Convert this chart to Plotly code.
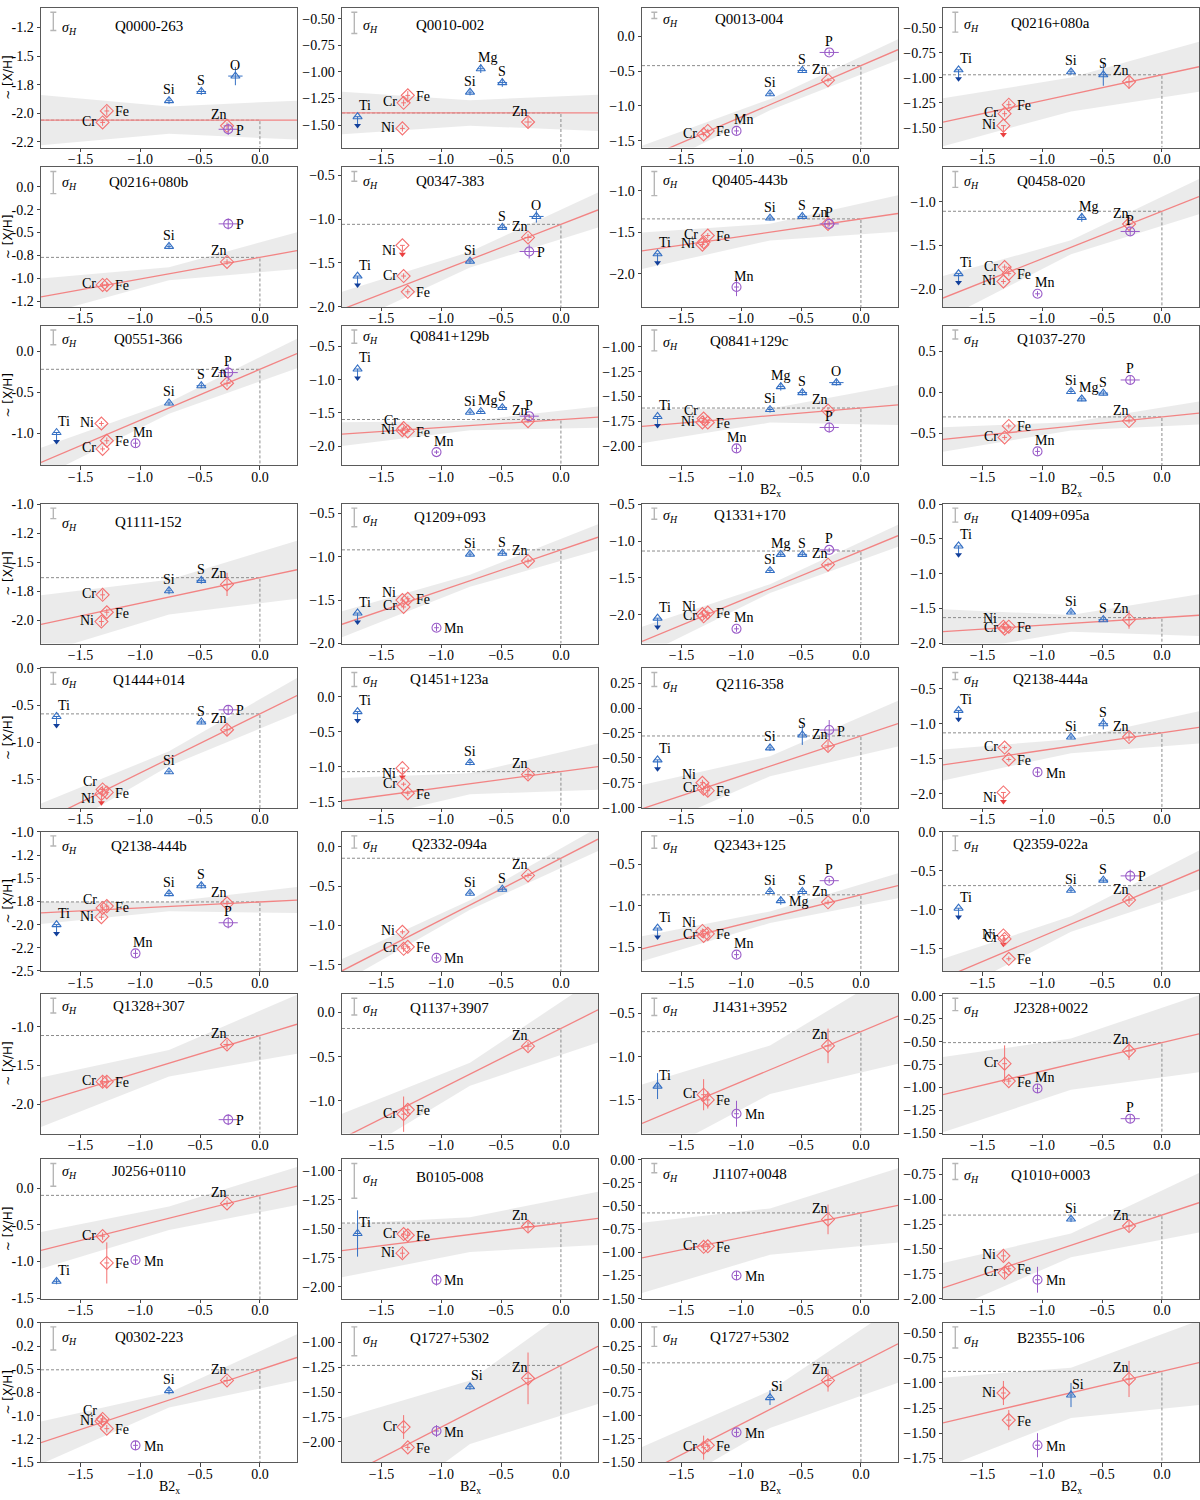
import plotly.graph_objects as go

# ---------------- data ----------------
X_RANGE = [-1.83, 0.31]
X_TICKS = [-1.5, -1.0, -0.5, 0.0]
BAND_X = [-1.83, -0.76, 0.31]

ELEM_B2X = {"Ti": -1.70, "Cr": -1.315, "Ni": -1.325, "Fe": -1.28, "Mn": -1.04,
            "Si": -0.76, "Mg": -0.67, "S": -0.49, "Zn": -0.275, "P": -0.265, "O": -0.205}
ELEM_XERR = {"Ti": 0.03, "Cr": 0.02, "Ni": 0.02, "Fe": 0.02, "Mn": 0.02, "Si": 0.02,
             "Mg": 0.03, "S": 0.04, "Zn": 0.03, "P": 0.08, "O": 0.06}
ALPHA_ELEMS = ["Ti", "Si", "Mg", "S", "O"]
FEPEAK_ELEMS = ["Cr", "Ni", "Fe", "Zn"]
OTHER_ELEMS = ["Mn", "P"]
DEFAULT_YERR = 0.03

NAMES = ["Q0000-263", "Q0010-002", "Q0013-004", "Q0216+080a",
         "Q0216+080b", "Q0347-383", "Q0405-443b", "Q0458-020",
         "Q0551-366", "Q0841+129b", "Q0841+129c", "Q1037-270",
         "Q1111-152", "Q1209+093", "Q1331+170", "Q1409+095a",
         "Q1444+014", "Q1451+123a", "Q2116-358", "Q2138-444a",
         "Q2138-444b", "Q2332-094a", "Q2343+125", "Q2359-022a",
         "Q1328+307", "Q1137+3907", "J1431+3952", "J2328+0022",
         "J0256+0110", "B0105-008", "J1107+0048", "Q1010+0003",
         "Q0302-223", "Q1727+5302", "Q1727+5302", "B2355-106"]

Y_RANGE = [[-2.30, -1.08], [-1.71, -0.40], [-1.60, 0.41], [-1.70, -0.30],
           [-1.31, 0.21], [-2.003, -0.41], [-2.40, -0.72], [-2.20, -0.61],
           [-1.39, 0.31], [-2.29, -0.19], [-2.19, -0.79], [-0.89, 0.81],
           [-2.20, -0.997], [-2.003, -0.39], [-2.39, -0.497], [-2.003, 0.003],
           [-1.89, 0.003], [-1.59, 0.41], [-1.003, 0.40], [-2.20, -0.21],
           [-2.503, -0.997], [-1.58, 0.19], [-1.79, -0.11], [-1.79, 0.003],
           [-2.38, -0.58], [-1.37, 0.21], [-1.89, -0.275], [-1.503, 0.02],
           [-1.51, 0.39], [-2.105, -0.90], [-1.503, 0.003], [-2.003, -0.60],
           [-1.503, 0.003], [-2.205, -0.80], [-1.503, 0.003], [-1.79, -0.40]]

Y_TICKS = [[-1.25, -1.5, -1.75, -2.0, -2.25], [-0.5, -0.75, -1.0, -1.25, -1.5], [0.0, -0.5, -1.0, -1.5], [-0.5, -0.75, -1.0, -1.25, -1.5],
           [0.0, -0.25, -0.5, -0.75, -1.0, -1.25], [-0.5, -1.0, -1.5, -2.0], [-1.0, -1.5, -2.0], [-1.0, -1.5, -2.0],
           [0.0, -0.5, -1.0], [-0.5, -1.0, -1.5, -2.0], [-1.0, -1.25, -1.5, -1.75, -2.0], [0.5, 0.0, -0.5],
           [-1.0, -1.25, -1.5, -1.75, -2.0], [-0.5, -1.0, -1.5, -2.0], [-0.5, -1.0, -1.5, -2.0], [0.0, -0.5, -1.0, -1.5, -2.0],
           [0.0, -0.5, -1.0, -1.5], [0.0, -0.5, -1.0, -1.5], [0.25, 0.0, -0.25, -0.5, -0.75, -1.0], [-0.5, -1.0, -1.5, -2.0],
           [-1.0, -1.25, -1.5, -1.75, -2.0, -2.25, -2.5], [0.0, -0.5, -1.0, -1.5], [-0.5, -1.0, -1.5], [0.0, -0.5, -1.0, -1.5],
           [-1.0, -1.5, -2.0], [0.0, -0.5, -1.0], [-0.5, -1.0, -1.5], [0.0, -0.25, -0.5, -0.75, -1.0, -1.25, -1.5],
           [0.0, -0.5, -1.0, -1.5], [-1.0, -1.25, -1.5, -1.75, -2.0], [0.0, -0.25, -0.5, -0.75, -1.0, -1.25, -1.5], [-0.75, -1.0, -1.25, -1.5, -1.75, -2.0],
           [0.0, -0.25, -0.5, -0.75, -1.0, -1.25, -1.5], [-1.0, -1.25, -1.5, -1.75, -2.0], [0.0, -0.25, -0.5, -0.75, -1.0, -1.25, -1.5], [-0.5, -0.75, -1.0, -1.25, -1.5, -1.75]]

FIT_ZERO = [-2.06, -1.385, -0.42, -0.97,
            -0.77, -1.06, -1.34, -1.11,
            -0.22, -1.60, -1.615, -0.30,
            -1.632, -0.92, -1.135, -1.63,
            -0.615, -1.07, -0.28, -1.13,
            -1.755, -0.147, -0.87, -0.69,
            -1.115, -0.18, -0.71, -0.51,
            -0.10, -1.45, -0.575, -1.16,
            -0.505, -1.23, -0.43, -0.885]

FIT_SLOPE = [0.0, 0.0, 0.74, 0.26,
             0.235, 0.53, 0.21, 0.54,
             0.62, 0.12, 0.10, 0.15,
             0.22, 0.47, 0.67, 0.11,
             0.80, 0.23, 0.40, 0.25,
             0.065, 0.78, 0.355, 0.65,
             0.47, 0.68, 0.58, 0.31,
             0.41, 0.13, 0.265, 0.40,
             0.43, 0.62, 0.66, 0.28]

BAND_HW = [[0.22, 0.12, 0.17], [0.20, 0.12, 0.17], [0.20, 0.08, 0.15], [0.24, 0.17, 0.25],
           [0.20, 0.07, 0.20], [0.20, 0.09, 0.20], [0.22, 0.10, 0.22], [0.25, 0.08, 0.20],
           [0.18, 0.07, 0.18], [0.18, 0.07, 0.16], [0.17, 0.07, 0.20], [0.15, 0.05, 0.14],
           [0.25, 0.15, 0.25], [0.15, 0.07, 0.15], [0.20, 0.06, 0.15], [0.32, 0.12, 0.30],
           [0.25, 0.10, 0.24], [0.33, 0.15, 0.33], [0.24, 0.10, 0.23], [0.22, 0.10, 0.23],
           [0.12, 0.05, 0.14], [0.15, 0.06, 0.15], [0.15, 0.07, 0.15], [0.25, 0.10, 0.25],
           [0.32, 0.17, 0.38], [0.28, 0.13, 0.37], [0.45, 0.28, 0.55], [0.41, 0.28, 0.42],
           [0.25, 0.16, 0.26], [0.23, 0.15, 0.23], [0.38, 0.25, 0.40], [0.25, 0.12, 0.30],
           [0.23, 0.08, 0.25], [0.60, 0.32, 0.58], [0.30, 0.20, 0.42], [0.45, 0.25, 0.42]]

SIGMA_H = [0.16, 0.20, 0.09, 0.20,
           0.24, 0.11, 0.29, 0.18,
           0.18, 0.20, 0.21, 0.11,
           0.09, 0.215, 0.15, 0.20,
           0.16, 0.20, 0.14, 0.10,
           0.11, 0.155, 0.15, 0.19,
           0.19, 0.19, 0.20, 0.135,
           0.31, 0.30, 0.10, 0.16,
           0.25, 0.29, 0.21, 0.21]

ABUND = [
    {"Cr": -2.08, "Fe": -1.98, "Si": -1.89, "S": -1.81, "O": -1.675, "Zn": -2.11, "P": -2.14},
    {"Ti": -1.42, "Ni": -1.53, "Cr": -1.29, "Fe": -1.22, "Si": -1.19, "Mg": -0.97, "S": -1.10, "Zn": -1.47},
    {"Cr": -1.41, "Fe": -1.36, "Mn": -1.36, "Si": -0.825, "S": -0.49, "Zn": -0.63, "P": -0.23},
    {"Ti": -0.92, "Si": -0.94, "S": -0.97, "Zn": -1.04, "Fe": -1.27, "Cr": -1.36, "Ni": -1.48},
    {"Si": -0.65, "P": -0.405, "Zn": -0.82, "Cr": -1.07, "Fe": -1.07},
    {"O": -0.97, "S": -1.095, "Zn": -1.21, "P": -1.37, "Ni": -1.30, "Si": -1.48, "Ti": -1.65, "Cr": -1.65, "Fe": -1.83},
    {"Si": -1.33, "S": -1.31, "Zn": -1.40, "P": -1.40, "Cr": -1.62, "Fe": -1.54, "Ni": -1.65, "Ti": -1.76, "Mn": -2.16},
    {"Mg": -1.18, "Zn": -1.255, "P": -1.34, "Ti": -1.82, "Cr": -1.745, "Fe": -1.82, "Ni": -1.91, "Mn": -2.05},
    {"Ti": -0.99, "Ni": -0.88, "Cr": -1.19, "Fe": -1.09, "Mn": -1.12, "Si": -0.63, "S": -0.42, "Zn": -0.39, "P": -0.26},
    {"Ti": -0.84, "Si": -1.49, "Mg": -1.48, "S": -1.42, "Zn": -1.625, "P": -1.55, "Cr": -1.73, "Ni": -1.76, "Fe": -1.78, "Mn": -2.09},
    {"Ti": -1.70, "Cr": -1.72, "Ni": -1.76, "Fe": -1.76, "Mn": -2.02, "Si": -1.63, "Mg": -1.40, "S": -1.46, "O": -1.36, "Zn": -1.64, "P": -1.81},
    {"Si": 0.01, "Mg": -0.08, "S": -0.01, "P": 0.15, "Zn": -0.35, "Fe": -0.41, "Cr": -0.55, "Mn": -0.72},
    {"Cr": -1.78, "Ni": -2.01, "Fe": -1.93, "Si": -1.745, "S": -1.655, "Zn": -1.69},
    {"Ti": -1.65, "Ni": -1.50, "Fe": -1.485, "Cr": -1.58, "Mn": -1.82, "Si": -0.97, "S": -0.96, "Zn": -1.05},
    {"Ti": -2.045, "Ni": -1.99, "Cr": -2.02, "Fe": -1.97, "Mn": -2.19, "Si": -1.40, "Mg": -1.18, "S": -1.18, "Zn": -1.32, "P": -1.12},
    {"Ti": -0.60, "Ni": -1.76, "Cr": -1.79, "Fe": -1.76, "Si": -1.55, "S": -1.66, "Zn": -1.66},
    {"Ti": -0.65, "S": -0.725, "P": -0.56, "Zn": -0.83, "Si": -1.40, "Cr": -1.64, "Fe": -1.68, "Ni": -1.70},
    {"Ti": -0.21, "Si": -0.94, "Ni": -1.02, "Cr": -1.25, "Fe": -1.38, "Zn": -1.11},
    {"Ti": -0.52, "Ni": -0.75, "Cr": -0.81, "Fe": -0.83, "Si": -0.40, "S": -0.27, "Zn": -0.38, "P": -0.22},
    {"Ti": -0.81, "Si": -1.19, "S": -1.00, "Zn": -1.19, "Cr": -1.34, "Fe": -1.51, "Mn": -1.69, "Ni": -1.98},
    {"Ti": -2.00, "Cr": -1.82, "Fe": -1.80, "Ni": -1.92, "Mn": -2.31, "Si": -1.665, "S": -1.58, "Zn": -1.77, "P": -1.98},
    {"Ni": -1.08, "Cr": -1.295, "Fe": -1.27, "Mn": -1.41, "Si": -0.59, "S": -0.54, "Zn": -0.365},
    {"Ti": -1.27, "Ni": -1.305, "Cr": -1.365, "Fe": -1.34, "Mn": -1.59, "Si": -0.83, "Mg": -0.94, "S": -0.83, "Zn": -0.96, "P": -0.70},
    {"Ti": -0.98, "Ni": -1.33, "Cr": -1.375, "Fe": -1.63, "Si": -0.75, "S": -0.62, "P": -0.565, "Zn": -0.875},
    {"Cr": -1.71, "Fe": -1.71, "Zn": -1.23, "P": -2.20},
    {"Cr": -1.15, "Fe": -1.10, "Zn": -0.38},
    {"Ti": -1.34, "Cr": -1.44, "Fe": -1.50, "Mn": -1.66, "Zn": -0.875},
    {"Cr": -0.74, "Fe": -0.93, "Mn": -1.01, "Zn": -0.60, "P": -1.34},
    {"Zn": -0.21, "Cr": -0.655, "Fe": -1.02, "Mn": -0.98, "Ti": -1.27},
    {"Ti": -1.54, "Cr": -1.545, "Fe": -1.555, "Ni": -1.71, "Mn": -1.94, "Zn": -1.48},
    {"Zn": -0.645, "Cr": -0.94, "Fe": -0.935, "Mn": -1.25},
    {"Si": -1.20, "Zn": -1.27, "Ni": -1.57, "Cr": -1.74, "Fe": -1.70, "Mn": -1.81},
    {"Cr": -1.035, "Ni": -1.06, "Fe": -1.14, "Mn": -1.32, "Si": -0.73, "Zn": -0.62},
    {"Cr": -1.85, "Fe": -2.055, "Mn": -1.89, "Si": -1.445, "Zn": -1.36},
    {"Cr": -1.345, "Fe": -1.32, "Mn": -1.18, "Si": -0.805, "Zn": -0.62},
    {"Ni": -1.10, "Fe": -1.37, "Mn": -1.62, "Si": -1.12, "Zn": -0.96},
]

ABUND_ERR = [
    {"Fe": 0.04, "O": 0.08, "P": 0.05},
    {"Fe": 0.04, "Mg": 0.04, "Zn": 0.05, "S": 0.04},
    {"Mn": 0.05, "P": 0.04},
    {"S": 0.11, "Zn": 0.07, "Fe": 0.04},
    {"P": 0.06},
    {"O": 0.07, "P": 0.08, "Zn": 0.04},
    {"Mn": 0.11, "Zn": 0.04},
    {"Mg": 0.05, "P": 0.05},
    {"Mn": 0.05, "P": 0.10, "Zn": 0.04, "Fe": 0.04},
    {},
    {"P": 0.05, "Mn": 0.04, "Mg": 0.04},
    {"P": 0.05, "Mn": 0.04},
    {"Zn": 0.10, "Cr": 0.04, "Ni": 0.04},
    {"Mn": 0.04},
    {"Mn": 0.04},
    {"Zn": 0.13, "Ni": 0.04},
    {"P": 0.06, "Zn": 0.07, "Cr": 0.05},
    {"Zn": 0.07, "Si": 0.04, "Fe": 0.04},
    {"S": 0.10, "P": 0.10, "Zn": 0.05, "Fe": 0.05},
    {"S": 0.08, "Zn": 0.06, "Mn": 0.05},
    {"P": 0.06, "Mn": 0.04},
    {"Mn": 0.04, "Cr": 0.04},
    {"Mg": 0.05, "Mn": 0.04},
    {"P": 0.08, "Zn": 0.05},
    {"Cr": 0.07, "Fe": 0.08, "Zn": 0.06, "P": 0.07},
    {"Cr": 0.20, "Fe": 0.05, "Zn": 0.05},
    {"Ti": 0.15, "Cr": 0.18, "Fe": 0.10, "Mn": 0.15, "Zn": 0.20},
    {"Cr": 0.20, "Fe": 0.04, "Mn": 0.05, "Zn": 0.10, "P": 0.05},
    {"Fe": 0.28, "Cr": 0.05, "Mn": 0.05, "Ti": 0.04, "Zn": 0.04},
    {"Ti": 0.20, "Ni": 0.04, "Mn": 0.05, "Zn": 0.05},
    {"Zn": 0.16, "Cr": 0.04, "Mn": 0.05},
    {"Zn": 0.06, "Ni": 0.05, "Mn": 0.13, "Cr": 0.05},
    {"Mn": 0.05, "Si": 0.04, "Zn": 0.04, "Fe": 0.04},
    {"Cr": 0.12, "Mn": 0.06, "Zn": 0.26},
    {"Cr": 0.13, "Si": 0.08, "Zn": 0.12, "Mn": 0.04},
    {"Ni": 0.12, "Fe": 0.10, "Mn": 0.12, "Si": 0.12, "Zn": 0.18},
]

UPPER_LIMITS = [[], ["Ti"], [], ["Ti", "Ni"],
                [], ["Ti", "Ni"], ["Ti"], ["Ti"],
                ["Ti"], ["Ti"], ["Ti"], [],
                [], ["Ti"], ["Ti"], ["Ti"],
                ["Ti", "Ni"], ["Ti", "Ni"], ["Ti"], ["Ti", "Ni"],
                ["Ti"], [], ["Ti"], ["Ti", "Ni"],
                [], [], [], [],
                [], [], [], [],
                [], [], [], []]

LABEL_POS = [
    {}, {}, {"P": "up"}, {},
    {}, {"Ni": "ld"}, {"Cr": "lu", "P": "up"}, {"P": "up", "Mg": "upright"},
    {"P": "up"}, {"Cr": "lu", "P": "up"}, {"Cr": "lu", "Mn": "up", "P": "up", "Mg": "up"}, {"P": "up"},
    {}, {"Ni": "lu", "Mn": "right"}, {"Ni": "lu", "P": "up", "Mg": "up"}, {"Ni": "lu"},
    {"Cr": "lu", "Ni": "ld"}, {"Ni": "ld"}, {"Ni": "lu"}, {"Mn": "right", "Ni": "ld"},
    {"Cr": "lu", "P": "up"}, {"Mn": "right"}, {"Ni": "lu", "Mg": "right", "P": "up"}, {},
    {}, {}, {"Mn": "right"}, {"P": "up"},
    {"Mn": "right"}, {"Mn": "right"}, {"Mn": "right"}, {"Mn": "right"},
    {"Cr": "lu", "Mn": "right"}, {"Mn": "right", "Si": "upright"}, {"Mn": "right", "Si": "upright"}, {"Mn": "right", "Si": "upright"},
]

# ---------------- style / layout ----------------
W, H = 1200, 1500
COL_LEFT = [41, 342, 642, 943]
PANEL_W = 256
ROW_TOP = [1, 162, 322, 502, 668, 833, 997, 1164, 1329]
PANEL_H = 141
FONT = "Liberation Serif"
TITLE_DROP = 0.155   # title sits this far (data units) below the top of each panel
SIGLAB_DROP = 0.175

BLUE = "#3570c4"
BLUE_DARK = "#123f9a"
RED = "#f47272"
RED_DARK = "#ea3f3f"
PURPLE = "#9a5cc8"
FIT_COL = "#f28484"
BAND_COL = "rgba(222,222,222,0.62)"
DASH_COL = "#8c8c8c"
SIG_COL = "#b6b6b6"

GROUPS = [(ALPHA_ELEMS, "triangle-up-open", BLUE, 8),
          (FEPEAK_ELEMS, "diamond-open", RED, 10),
          (OTHER_ELEMS, "circle-open", PURPLE, 9)]

POS = {"up": (0, 11, "center"), "upleft": (-8, 11, "center"), "upright": (7, 11, "center"),
       "left": (-5, 1, "right"), "right": (6, -1, "left"),
       "lu": (-4, 8, "right"), "ld": (-4, -5, "right")}
DEFAULT_POS = {"Ti": "upright", "Cr": "left", "Ni": "left", "Fe": "right", "Mn": "upright",
               "Si": "up", "Mg": "upright", "S": "up", "Zn": "upleft", "P": "right", "O": "up"}


def fmt_x(v):
    s = f"{v:.1f}"
    return s.replace("-", "\u2212")


def fmt_y(v, col, ticks):
    if col == 0:
        s = f"{v:.1f}"
        return "0.0" if s == "-0.0" else s
    dec = 2 if any(abs(t * 2 - round(t * 2)) > 1e-9 for t in ticks) else 1
    s = f"{v:.{dec}f}"
    if s.startswith("-0.0") and float(s) == 0:
        s = s[1:]
    return s.replace("-", "\u2212")


fig = go.Figure()
annots = []
layout = dict(width=W, height=H, margin=dict(l=0, r=0, t=0, b=0, pad=0),
              paper_bgcolor="white", plot_bgcolor="white", showlegend=False,
              font=dict(family=FONT, size=13, color="black"))

axis_common = dict(showline=True, mirror=True, linecolor="#5a5a5a", linewidth=1,
                   ticks="outside", ticklen=3.5, tickwidth=1, tickcolor="#444",
                   showgrid=False, zeroline=False,
                   tickfont=dict(family=FONT, size=14, color="black"))

for i, name in enumerate(NAMES):
    r, c = divmod(i, 4)
    sfx = "" if i == 0 else str(i + 1)
    xa, ya = "x" + sfx, "y" + sfx
    x0 = COL_LEFT[c] / W
    x1 = (COL_LEFT[c] + PANEL_W) / W
    y1 = 1 - ROW_TOP[r] / H
    y0 = 1 - (ROW_TOP[r] + PANEL_H) / H
    ymin, ymax = Y_RANGE[i]
    b, m = FIT_ZERO[i], FIT_SLOPE[i]
    common = dict(xaxis=xa, yaxis=ya, hoverinfo="skip", showlegend=False)

    # confidence band
    up = [b + m * x + h for x, h in zip(BAND_X, BAND_HW[i])]
    lo = [b + m * x - h for x, h in zip(BAND_X, BAND_HW[i])]
    fig.add_trace(go.Scatter(x=BAND_X + BAND_X[::-1], y=up + lo[::-1], fill="toself",
                             fillcolor=BAND_COL, line=dict(width=0), mode="lines", **common))
    # dashed guide at intercept
    fig.add_trace(go.Scatter(x=[X_RANGE[0], 0, 0], y=[b, b, ymin], mode="lines",
                             line=dict(color=DASH_COL, width=1, dash="3px,2px"), **common))
    # fit line
    fig.add_trace(go.Scatter(x=X_RANGE, y=[b + m * X_RANGE[0], b + m * X_RANGE[1]], mode="lines",
                             line=dict(color=FIT_COL, width=1.3), **common))

    # sigma_H bar
    span = ymax - ymin
    s = SIGMA_H[i]
    ytop = ymax - 0.03 * span
    fig.add_trace(go.Scatter(x=[-1.727], y=[ytop - s / 2], mode="markers",
                             marker=dict(size=2, opacity=0),
                             error_y=dict(type="data", array=[s / 2], color=SIG_COL, thickness=1.4, width=3),
                             **common))
    annots.append(dict(text="<i>\u03c3<sub>H</sub></i>", xref=xa + " domain", yref=ya,
                       x=0.075, y=ymax - SIGLAB_DROP, xanchor="left", yanchor="middle", showarrow=False,
                       font=dict(family=FONT, size=14, color="black")))
    # title
    annots.append(dict(text=name, xref=xa + " domain", yref=ya,
                       x=0.42, y=ymax - TITLE_DROP, xanchor="center", yanchor="middle", showarrow=False,
                       font=dict(family=FONT, size=15, color="black")))

    # upper-limit arrows
    ul_len = 9.0 / PANEL_H * span
    for e in UPPER_LIMITS[i]:
        xe, ye = ELEM_B2X[e], ABUND[i][e]
        lc, dc = (BLUE, BLUE_DARK) if e in ALPHA_ELEMS else (RED, RED_DARK)
        fig.add_trace(go.Scatter(x=[xe, xe], y=[ye, ye - ul_len], mode="lines",
                                 line=dict(color=lc, width=1), **common))
        fig.add_trace(go.Scatter(x=[xe], y=[ye - ul_len], mode="markers",
                                 marker=dict(symbol="triangle-down", size=6, color=dc,
                                             line=dict(width=0)), **common))

    # abundance points
    for grp, sym, col, size in GROUPS:
        els = [e for e in ABUND[i] if e in grp]
        if not els:
            continue
        xs = [ELEM_B2X[e] for e in els]
        ys = [ABUND[i][e] for e in els]
        exs = [ELEM_XERR[e] for e in els]
        eys = [0 if e in UPPER_LIMITS[i] else ABUND_ERR[i].get(e, DEFAULT_YERR) for e in els]
        fig.add_trace(go.Scatter(x=xs, y=ys, mode="markers",
                                 marker=dict(symbol=sym, size=size, color=col, line=dict(width=1.1, color=col)),
                                 error_x=dict(type="data", array=exs, color=col, thickness=1, width=0),
                                 error_y=dict(type="data", array=eys, color=col, thickness=1, width=0),
                                 **common))
        for e, xv, yv in zip(els, xs, ys):
            code = LABEL_POS[i].get(e, DEFAULT_POS[e])
            dx, dy, anc = POS[code]
            annots.append(dict(text=e, x=xv, y=yv, xref=xa, yref=ya, showarrow=False,
                               xshift=dx, yshift=dy, xanchor=anc, yanchor="middle",
                               font=dict(family=FONT, size=14, color="black")))

    ticks_y = Y_TICKS[i]
    layout["xaxis" + sfx] = dict(domain=[x0, x1], anchor=ya, range=X_RANGE,
                                 tickvals=X_TICKS, ticktext=[fmt_x(v) for v in X_TICKS],
                                 ticklabelstandoff=-5, **axis_common)
    layout["yaxis" + sfx] = dict(domain=[y0, y1], anchor=xa, range=[ymin, ymax],
                                 tickvals=ticks_y, ticktext=[fmt_y(v, c, ticks_y) for v in ticks_y],
                                 **axis_common)

# y-axis labels (first column of every row)
for r, top in enumerate(ROW_TOP):
    annots.append(dict(text="~ [X/H]", xref="paper", yref="paper", x=8 / W,
                       y=1 - (top + PANEL_H / 2) / H, textangle=-90, showarrow=False,
                       xanchor="center", yanchor="middle",
                       font=dict(family="DejaVu Sans", size=12, color="black")))

# x-axis labels
for r, c in [(2, 2), (2, 3), (8, 0), (8, 1), (8, 2), (8, 3)]:
    annots.append(dict(text="B2<sub>x</sub>", xref="paper", yref="paper",
                       x=(COL_LEFT[c] + PANEL_W / 2) / W,
                       y=1 - (ROW_TOP[r] + PANEL_H + 25) / H, showarrow=False,
                       xanchor="center", yanchor="middle",
                       font=dict(family=FONT, size=14, color="black")))

layout["annotations"] = annots
fig.update_layout(**layout)

PAGE_FIX = ("var de=document.documentElement, bd=document.body;"
            "de.style.margin='0px';de.style.padding='0px';de.style.overflow='hidden';"
            "de.style.width='1200px';de.style.height='1500px';"
            "bd.style.margin='0px';bd.style.padding='0px';bd.style.overflow='hidden';"
            "bd.style.width='1200px';bd.style.height='1500px';"
            "var gd=document.getElementById('{plot_id}');"
            "gd.style.position='fixed';gd.style.left='0px';gd.style.top='0px';"
            "gd.style.margin='0px';")
fig.write_html("out.html", config={"responsive": False, "displayModeBar": False},
               post_script=PAGE_FIX)
